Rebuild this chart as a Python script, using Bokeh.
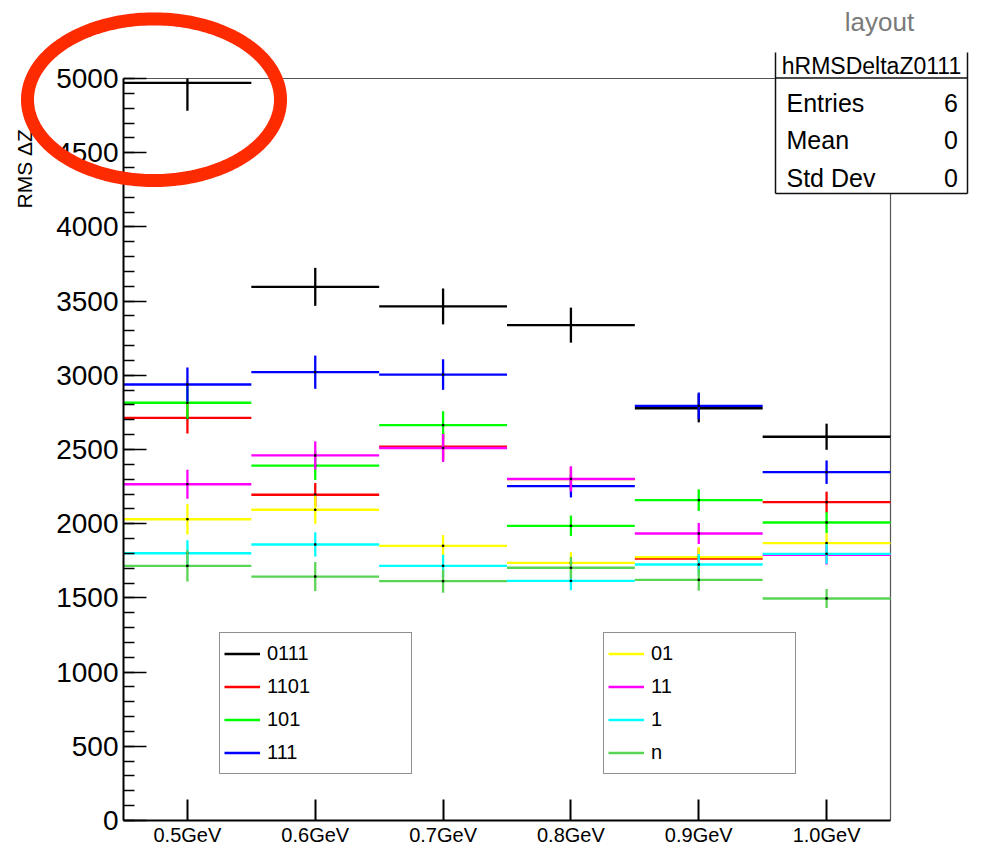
import numpy as np
from bokeh.plotting import figure
from bokeh.models import (ColumnDataSource, Legend, LegendItem, FixedTicker, Label,
                          BoxAnnotation, PolyAnnotation, Range1d)
from bokeh.embed import file_html
from bokeh.resources import INLINE

# ---------------- data ----------------
energies = [0.5, 0.6, 0.7, 0.8, 0.9, 1.0]
tick_labels = ["0.5GeV", "0.6GeV", "0.7GeV", "0.8GeV", "0.9GeV", "1.0GeV"]
bin_width = 0.1

series_names = ["0111", "1101", "101", "111", "01", "11", "1", "n"]
series_colors = ["#000000", "#ff0000", "#00ff00", "#0000ff",
                 "#ffff00", "#ff00ff", "#00ffff", "#59d454"]

rms_0111 = [4970, 3596, 3464, 3338, 2778, 2586]
err_0111 = [187, 128, 121, 118, 95, 88]
rms_1101 = [2713, 2195, 2520, 2300, 1765, 2145]
err_1101 = [105, 79, 94, 80, 70, 71]
rms_101 = [2815, 2392, 2664, 1986, 2159, 2008]
err_101 = [108, 97, 94, 69, 73, 70]
rms_111 = [2938, 3021, 3005, 2253, 2794, 2347]
err_111 = [115, 112, 103, 76, 90, 79]
rms_01 = [2030, 2094, 1851, 1736, 1775, 1869]
err_01 = [103, 95, 72, 72, 67, 67]
rms_11 = [2266, 2460, 2510, 2302, 1934, 1790]
err_11 = [98, 95, 94, 85, 71, 65]
rms_1 = [1801, 1860, 1716, 1615, 1725, 1797]
err_1 = [88, 82, 75, 63, 70, 67]
rms_n = [1716, 1644, 1613, 1703, 1622, 1496]
err_n = [105, 98, 78, 73, 73, 64]

all_rms = [rms_0111, rms_1101, rms_101, rms_111, rms_01, rms_11, rms_1, rms_n]
all_err = [err_0111, err_1101, err_101, err_111, err_01, err_11, err_1, err_n]

y_ticks = [0, 500, 1000, 1500, 2000, 2500, 3000, 3500, 4000, 4500, 5000]

stats_title = "hRMSDeltaZ0111"
stats_rows = [("Entries", "6"), ("Mean", "0"), ("Std Dev", "0")]
canvas_title = "layout"
y_title = "RMS ΔZ"

FONT = "Liberation Sans"

# ---------------- geometry ----------------
W, H = 982, 849
XMIN = energies[0] - bin_width / 2
XMAX = energies[-1] + bin_width / 2
YMIN, YMAX = 0, 5000
# the histogram frame, in canvas pixels
FL, FR, FT, FB = 123, 890, 78, 820

def px2x(px):
    return XMIN + (px - FL) * (XMAX - XMIN) / (FR - FL)

def py2y(py):
    return YMIN + (FB - py) * (YMAX - YMIN) / (FB - FT)

p = figure(width=W, height=H, output_backend="svg", toolbar_location=None,
           title=None,
           x_range=Range1d(px2x(0), px2x(W)), y_range=Range1d(py2y(H), py2y(0)),
           min_border=0, min_border_left=0, min_border_right=0,
           min_border_top=0, min_border_bottom=0)
p.background_fill_color = "white"
p.border_fill_color = "white"
p.outline_line_color = None
p.grid.visible = False

# axes drawn at the histogram frame edges
xa = p.xaxis[0]
xa.fixed_location = YMIN
xa.bounds = (XMIN, XMAX)
xa.ticker = FixedTicker(ticks=energies, minor_ticks=[])
xa.major_label_overrides = {e: t for e, t in zip(energies, tick_labels)}
xa.axis_line_width = 2
xa.axis_line_color = "black"
xa.major_tick_in = 21
xa.major_tick_out = 0
xa.major_tick_line_width = 2
xa.minor_tick_in = 0
xa.minor_tick_out = 0
xa.major_label_text_font = FONT
xa.major_label_text_font_size = "20px"
xa.major_label_text_color = "black"
xa.major_label_standoff = 3

ya = p.yaxis[0]
ya.fixed_location = XMIN
ya.bounds = (YMIN, YMAX)
ya.ticker = FixedTicker(ticks=y_ticks, minor_ticks=list(range(YMIN, YMAX + 1, 100)))
ya.axis_line_width = 2
ya.axis_line_color = "black"
ya.major_tick_in = 23
ya.major_tick_out = 0
ya.major_tick_line_width = 1.5
ya.minor_tick_in = 11
ya.minor_tick_out = 0
ya.minor_tick_line_width = 1.5
ya.minor_tick_line_color = "black"
ya.major_label_text_font = FONT
ya.major_label_text_font_size = "28px"
ya.major_label_text_color = "black"
ya.major_label_standoff = 5

# thin grey frame lines (top and right)
p.line(x=[XMIN, XMAX, XMAX], y=[YMAX, YMAX, YMIN], line_color="#555555", line_width=1.2)

# ---------------- data marks ----------------
items = []
for name, col, rms, err in zip(series_names, series_colors, all_rms, all_err):
    x = np.array(energies)
    y = np.array(rms, dtype=float)
    e = np.array(err, dtype=float)
    src = ColumnDataSource(dict(x=x, x0=x - bin_width / 2, x1=x + bin_width / 2,
                                y=y, ylo=np.maximum(y - e, YMIN),
                                yhi=np.minimum(y + e, YMAX)))
    h = p.segment(x0="x0", y0="y", x1="x1", y1="y", source=src,
                  line_color=col, line_width=2.3)
    p.segment(x0="x", y0="ylo", x1="x", y1="yhi", source=src,
              line_color=col, line_width=2.3)
    p.scatter(x="x", y="y", source=src, marker="square", size=1.5,
              color="black")
    items.append(LegendItem(label=name, renderers=[h]))

def make_legend(its, left_px, bottom_px):
    return Legend(items=its, location=(left_px, H - bottom_px), orientation="vertical",
                  label_text_font=FONT, label_text_font_size="20px",
                  label_text_color="black",
                  glyph_width=36, glyph_height=33, label_height=33,
                  label_width=140, label_standoff=7, spacing=0,
                  padding=4, margin=0,
                  border_line_color="#222222", border_line_width=1.5,
                  background_fill_color="white", background_fill_alpha=1.0)

p.add_layout(make_legend(items[:4], 219, 774), "center")
p.add_layout(make_legend(items[4:], 603, 774), "center")

# ---------------- stats box ----------------
SL, SR, ST, SB, SSEP = 775, 967, 52, 193, 77.5
TXT_SHIFT = 7  # rendered baseline sits a bit low; compensate
p.add_layout(BoxAnnotation(left=px2x(SL), right=px2x(SR), top=py2y(ST), bottom=py2y(SB),
                           fill_color="white", fill_alpha=1, line_alpha=0, level="overlay"))
for (l, r, t, b) in [(SL - 0.75, SL + 0.75, ST, SB), (SR - 0.75, SR + 0.75, ST, SB),
                     (SL, SR, SB - 0.75, SB + 0.75), (SL, SR, SSEP - 0.75, SSEP + 0.75)]:
    p.add_layout(BoxAnnotation(left=px2x(l), right=px2x(r), top=py2y(t), bottom=py2y(b),
                               fill_color="#111111", fill_alpha=1, line_alpha=0,
                               level="overlay"))
p.add_layout(Label(x=px2x((SL + SR) / 2), y=py2y(72 - TXT_SHIFT), text=stats_title,
                   text_font=FONT, text_font_size="23px", text_align="center",
                   text_baseline="alphabetic", text_color="black", level="overlay"))
for i, (k, v) in enumerate(stats_rows):
    base = 109.5 + 37.3 * i - TXT_SHIFT
    p.add_layout(Label(x=px2x(786), y=py2y(base), text=k, text_font=FONT,
                       text_font_size="25px", text_align="left",
                       text_baseline="alphabetic", text_color="black", level="overlay"))
    p.add_layout(Label(x=px2x(957.5), y=py2y(base), text=v, text_font=FONT,
                       text_font_size="25px", text_align="right",
                       text_baseline="alphabetic", text_color="black", level="overlay"))

# canvas title
p.add_layout(Label(x=px2x(879), y=py2y(28 - TXT_SHIFT), text=canvas_title, text_font=FONT,
                   text_font_size="26px", text_align="center",
                   text_baseline="alphabetic", text_color="#7a7a7a"))

# y axis title (rotated, reads bottom to top)
p.add_layout(Label(x=px2x(31 - TXT_SHIFT), y=py2y(208), text=y_title, angle=np.pi / 2,
                   text_font=FONT, text_font_size="21px", text_align="left",
                   text_baseline="alphabetic", text_color="black"))

# red highlight ellipse
t = np.linspace(0, 2 * np.pi, 241)
ecx, ecy, erx, ery = 153.5, 99.2, 126.5, 80.8
exs = [px2x(ecx + erx * np.cos(a)) for a in t]
eys = [py2y(ecy + ery * np.sin(a)) for a in t]
p.add_layout(PolyAnnotation(xs=exs, ys=eys, line_color="#fe2a00", line_alpha=1.0,
                            line_width=13, fill_alpha=0, level="overlay"))

open("out.html", "w").write(file_html(p, INLINE))
